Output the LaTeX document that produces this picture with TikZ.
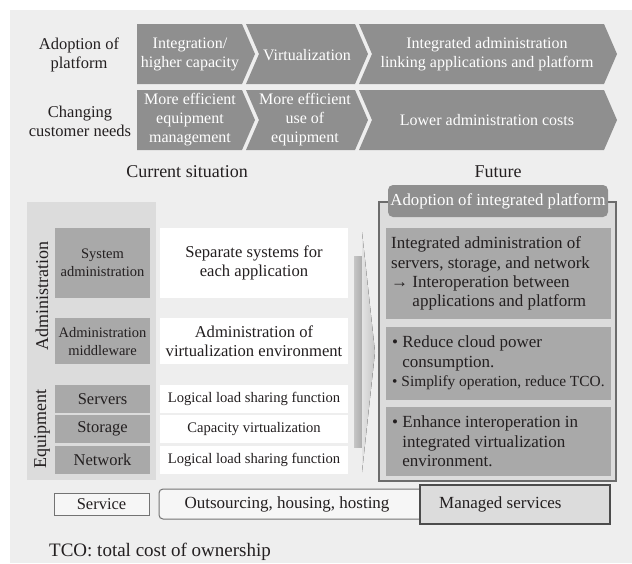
\documentclass[tikz,border=0pt]{standalone}
\usepackage{fontspec}
\setmainfont{Liberation Serif}
\definecolor{bgcol}{HTML}{EEEEEE}
\definecolor{panel}{HTML}{DCDCDC}
\definecolor{chev}{HTML}{8F8F8F}
\definecolor{labcol}{HTML}{A9A9A9}
\definecolor{ink}{HTML}{231F20}
\newcommand{\sz}[2]{\fontsize{#1}{#2}\selectfont}

\begin{document}
\begin{tikzpicture}[x=1pt,y=-1pt,
    every node/.style={text=ink, inner sep=0pt},
    chevtxt/.style={align=center, text=white, font=\sz{16}{19}},
    rowtxt/.style={align=center, font=\sz{16.5}{19}},
    labtxt/.style={align=center, font=\sz{14.5}{18.5}},
    eqtxt/.style={font=\sz{16.5}{19}},
    celltxt/.style={align=center, font=\sz{16.6}{19}},
    smalltxt/.style={font=\sz{14.6}{18}},
    futtxt/.style={anchor=west, align=left, font=\sz{17}{19.3}},
    head/.style={font=\sz{18}{21}}]
    \useasboundingbox (0,0) rectangle (632,563);
    \fill[bgcol] (10,10) rectangle (632,563);

    % chevrons
    \foreach \t/\m/\b in {24/54/84, 90/120/150} {
        \fill[chev] (137,\t) -- (242,\t) -- (255,\m) -- (242,\b) -- (137,\b) -- cycle;
        \fill[chev] (246,\t) -- (355,\t) -- (368,\m) -- (355,\b) -- (246,\b) -- (259,\m) -- cycle;
        \fill[chev] (359,\t) -- (604,\t) -- (617,\m) -- (604,\b) -- (359,\b) -- (372,\m) -- cycle;
    }
    \node[rowtxt] (plat) at (79,54.5) {Adoption of\\platform};
    \node[rowtxt] (needs) at (80,121) {Changing\\customer needs};
    \node[chevtxt] (plat1) at (190,54.5) {Integration/\\higher capacity};
    \node[chevtxt] (plat2) at (307,55) {Virtualization};
    \node[chevtxt] (plat3) at (487,54.5) {Integrated administration\\linking applications and platform};
    \node[chevtxt] (need1) at (190,119.5) {More efficient\\equipment\\management};
    \node[chevtxt] (need2) at (305,119.5) {More efficient\\use of\\equipment};
    \node[chevtxt] (need3) at (487,120) {Lower administration costs};

    \node[head] (now) at (187,172) {Current situation};
    \node[head] (future) at (498,172) {Future};

    % current situation table
    \fill[panel] (27,202) rectangle (156,480);
    \node[head, rotate=90] (adm) at (42,296) {Administration};
    \node[head, rotate=90] (equ) at (42,429) {Equipment};
    \foreach \t/\b in {228/298, 318/364, 385/413, 415/443, 446/474} {
        \fill[labcol] (55,\t) rectangle (150,\b);
        \fill[white] (160,\t) rectangle (348,\b);
    }
    \node[labtxt] (sys) at (102.5,263) {System\\administration};
    \node[labtxt] (mid) at (102.5,341.5) {Administration\\middleware};
    \node[eqtxt] (srv) at (102.5,399) {Servers};
    \node[eqtxt] (sto) at (102.5,429) {Storage};
    \node[eqtxt] (net) at (102.5,460) {Network};
    \node[celltxt] (sysc) at (254,263) {Separate systems for\\each application};
    \node[celltxt] (midc) at (254,341.5) {Administration of\\virtualization environment};
    \node[smalltxt] (srvc) at (254,399) {Logical load sharing function};
    \node[smalltxt] (stoc) at (254,429) {Capacity virtualization};
    \node[smalltxt] (netc) at (254,460) {Logical load sharing function};

    % big arrow
    \fill[left color=gray!45, right color=gray!65] (354,256) rectangle (362,447);
    \fill[left color=gray!22, right color=gray!45] (362,232) -- (375,352) -- (362,472) -- cycle;

    % future panel
    \filldraw[fill=panel, draw=gray!85!black, line width=1.5pt] (379,202) rectangle (616,481);
    \fill[chev, rounded corners=5pt] (388,185) rectangle (608,217);
    \node[text=white, font=\sz{16.8}{19}] (plat4) at (498,201) {Adoption of integrated platform};
    \fill[labcol] (386,228) rectangle (611,319);
    \fill[labcol] (386,327) rectangle (611,400);
    \fill[labcol] (386,407) rectangle (611,476);
    \node[futtxt] (fut1) at (391,273.5) {Integrated administration of\\servers, storage, and network\\→ Interoperation between\\\hphantom{→ }applications and platform};
    \node[futtxt] (fut2) at (392,363) {• Reduce cloud power\\\hphantom{• }consumption.\\{\sz{15.4}{19.3}• Simplify operation, reduce TCO.}};
    \node[futtxt] (fut3) at (392,441.5) {• Enhance interoperation in\\\hphantom{• }integrated virtualization\\\hphantom{• }environment.};

    % service row
    \filldraw[fill=bgcol!50!white, draw=gray!90!black, line width=1pt] (54,493) rectangle (149,515);
    \node[eqtxt] (svc) at (101.5,504) {Service};
    \filldraw[fill=bgcol!50!white, draw=gray!90!black, line width=1pt, rounded corners=4pt] (159,489) rectangle (440,519);
    \node[eqtxt, font=\sz{17}{19}] (out) at (287,504) {Outsourcing, housing, hosting};
    \filldraw[fill=panel, draw=gray!60!black, line width=1.5pt] (420,485) rectangle (610,524);
    \node[eqtxt, font=\sz{17}{19}, anchor=west] (man) at (439,504.5) {Managed services};

    \node[anchor=west, font=\sz{19}{23}] (tco) at (49,552) {TCO: total cost of ownership};
\end{tikzpicture}
\end{document}
